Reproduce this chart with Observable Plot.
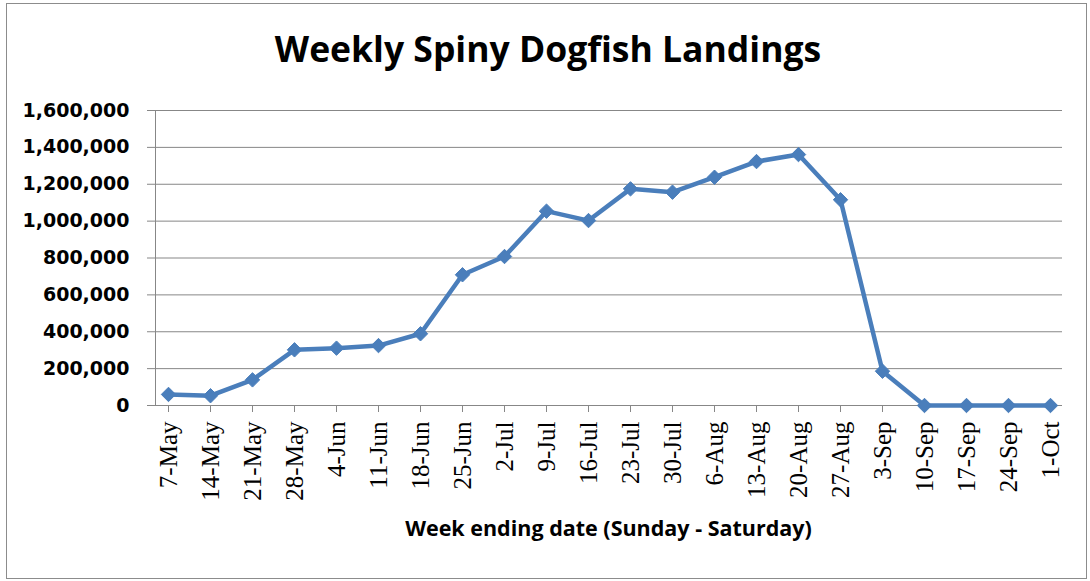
<!DOCTYPE html>
<html>
<head>
<meta charset="utf-8">
<script src="https://cdn.jsdelivr.net/npm/d3@7"></script>
<script src="https://cdn.jsdelivr.net/npm/@observablehq/plot@0.6"></script>
<style>
  html, body { margin: 0; padding: 0; background: #fff; }
  #chart { position: relative; width: 1090px; height: 581px; overflow: hidden; }
  #border { position: absolute; left: 6px; top: 3px; width: 1079px; height: 574px; border: 1px solid #8c8c8c; box-sizing: content-box; }
  #title { position: absolute; left: 0; width: 1096px; top: 25px; text-align: center;
           font-family: "Open Sans", sans-serif; font-weight: bold; font-size: 35.5px; line-height: 46px; color: #000; }
  #xlabel { position: absolute; left: 155px; width: 907px; top: 513px; text-align: center;
            font-family: "Open Sans", sans-serif; font-weight: bold; font-size: 21.5px; line-height: 30px; color: #000; }
  #plot { position: absolute; left: 0; top: 90px; }
</style>
</head>
<body>
<div id="chart">
  <div id="border"></div>
  <div id="title">Weekly Spiny Dogfish Landings</div>
  <div id="plot"></div>
  <div id="xlabel">Week ending date (Sunday - Saturday)</div>
</div>
<script>
const weeks = ["7-May","14-May","21-May","28-May","4-Jun","11-Jun","18-Jun","25-Jun","2-Jul","9-Jul","16-Jul","23-Jul","30-Jul","6-Aug","13-Aug","20-Aug","27-Aug","3-Sep","10-Sep","17-Sep","24-Sep","1-Oct"];
const landings = [60000, 53000, 139000, 302000, 311000, 325000, 389000, 709000, 808000, 1054000, 1003000, 1175000, 1157000, 1238000, 1323000, 1361000, 1116000, 186000, 0, 0, 0, 0];
const yTicks = [0, 200000, 400000, 600000, 800000, 1000000, 1200000, 1400000, 1600000];

const data = weeks.map((w, i) => ({week: w, value: landings[i]}));
const blue = "#4a7ebb";

const chart = Plot.plot({
  width: 1090,
  height: 480,
  marginTop: 20,
  marginBottom: 165,
  marginLeft: 155,
  marginRight: 28,
  style: {background: "transparent", overflow: "visible"},
  x: {type: "point", domain: weeks, padding: 0, insetLeft: 5, insetRight: 4},
  y: {domain: [0, 1600000]},
  marks: [
    Plot.gridY(yTicks, {stroke: "#878787", strokeOpacity: 1, strokeWidth: 1}),
    Plot.frame({anchor: "left", stroke: "#878787"}),
    Plot.ruleY([0], {stroke: "#878787", strokeWidth: 1.2}),
    Plot.axisY(yTicks, {
      tickSize: 8, tickPadding: 18, stroke: "#878787",
      tickFormat: d3.format(","), label: null,
      fontFamily: "DejaVu Sans", fontWeight: "bold", fontSize: 19, fill: "#000"
    }),
    Plot.axisX({
      tickSize: 7, tickPadding: 9, tickRotate: -90, stroke: "#878787",
      label: null, fontFamily: "Liberation Serif", fontSize: 25, fill: "#000"
    }),
    Plot.line(data, {x: "week", y: "value", stroke: blue, strokeWidth: 4.5, strokeLinejoin: "round"}),
    Plot.dot(data, {x: "week", y: "value", symbol: "diamond2", r: 6.5, fill: blue, stroke: blue, strokeWidth: 1})
  ]
});
document.getElementById("plot").appendChild(chart);
</script>
</body>
</html>
